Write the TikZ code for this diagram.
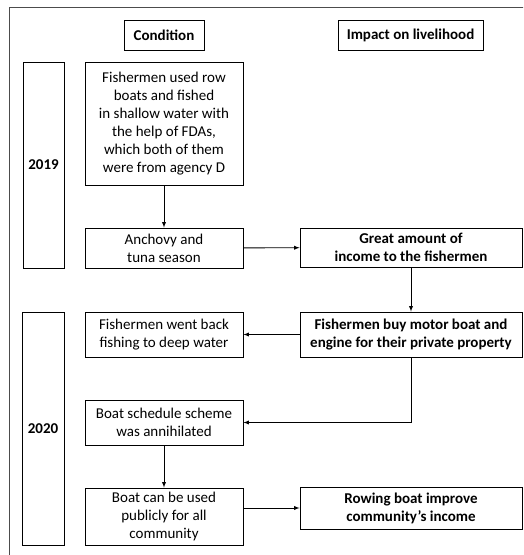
\documentclass[tikz,border=0pt]{standalone}
\usepackage{fontspec}
\setmainfont{Carlito}
\usepackage{tikz}
\usetikzlibrary{arrows}

\tikzset{
  box/.style={draw, line width=0.9pt, align=center, inner sep=0pt, font=\fontsize{15}{18}\selectfont},
  yearbox/.style={box, font=\fontsize{15}{18}\selectfont\bfseries},
  arr/.style={line width=0.9pt, -latex}
}

\begin{document}
\begin{tikzpicture}[x=1pt,y=-1pt]
\useasboundingbox (0,0) rectangle (523,555);
\clip (0,0) rectangle (523,555);
\draw[line width=0.8pt, black!70] (9,7) rectangle (540,575);
\node[yearbox, minimum width=80pt, minimum height=30pt] (cond) at (164,35) {Condition};
\node[yearbox, minimum width=145pt, minimum height=30pt] (impact) at (410.5,35) {Impact on livelihood};
\node[yearbox, minimum width=41pt, minimum height=206pt] (y2019) at (43.5,165) {2019};
\node[yearbox, minimum width=42pt, minimum height=233pt] (y2020) at (43,428.5) {2020};
\node[box, minimum width=158pt, minimum height=123pt] (row) at (164,123.5) {Fishermen used row\\boats and fished\\in shallow water with\\the help of FDAs,\\which both of them\\were from agency D};
\node[box, minimum width=158pt, minimum height=40pt] (anchovy) at (164,248) {Anchovy and\\tuna season};
\node[yearbox, minimum width=222pt, minimum height=39pt] (great) at (411,247.5) {Great amount of\\income to the fishermen};
\node[box, minimum width=158pt, minimum height=45pt] (back) at (164,334.5) {Fishermen went back\\fishing to deep water};
\node[yearbox, minimum width=222pt, minimum height=45pt] (motor) at (411,334.5) {Fishermen buy motor boat and\\engine for their private property};
\node[box, minimum width=158pt, minimum height=45pt] (sched) at (164,422.5) {Boat schedule scheme\\was annihilated};
\node[box, minimum width=158pt, minimum height=57pt] (public) at (164,516.5) {Boat can be used\\publicly for all\\community};
\node[yearbox, minimum width=222pt, minimum height=42pt] (rowing) at (411,508) {Rowing boat improve\\community’s income};
\draw[arr] (row) -- (anchovy);
\draw[arr] (anchovy) -- (great);
\draw[arr] (great) -- (motor);
\draw[arr] (motor) -- (back);
\draw[arr] (motor.south) |- (sched.east);
\draw[arr] (sched) -- (public);
\draw[arr] (rowing.west -| public.east) -- (rowing.west);
\end{tikzpicture}
\end{document}
